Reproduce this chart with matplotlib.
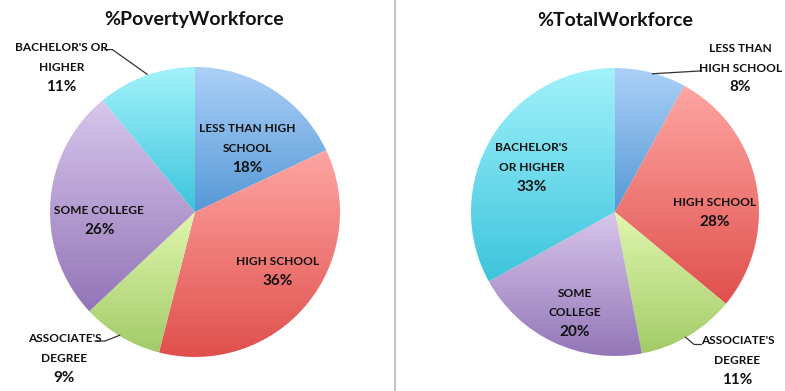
import numpy as np
import matplotlib
matplotlib.use("Agg")
import matplotlib.pyplot as plt
from matplotlib.colors import LinearSegmentedColormap

# ---- data ----
categories = ["Less than high school", "High school", "Associate's degree",
              "Some college", "Bachelor's or higher"]
poverty_values = [18, 36, 9, 26, 11]
total_values = [8, 28, 11, 20, 33]
titles = ["%PovertyWorkforce", "%TotalWorkforce"]

# label line breaks per chart (text content)
poverty_label_lines = [["Less than high", "school"], ["High school"], ["Associate's", "degree"],
                       ["Some college"], ["Bachelor's or", "higher"]]
total_label_lines = [["Less than", "high school"], ["High school"], ["Associate's", "degree"],
                     ["Some", "college"], ["Bachelor's", "or higher"]]

# ---- style ----
grad_colors = [("#acd0f7", "#5598d6"),
               ("#ffa6a3", "#df4f4c"),
               ("#e0f7ae", "#a3cb68"),
               ("#d8c6ec", "#9275b6"),
               ("#a2f2fb", "#3cc4dc")]
# label placement (radius fraction, outside flag, text offset in r units)
poverty_label_pos = [(0.36, 0.44), (0.57, -0.41), (-0.90, -1.01), (-0.66, -0.06), (-0.92, 1.00)]
total_label_pos = [(0.87, 1.00), (0.69, 0.00), (0.85, -1.03), (-0.28, -0.70), (-0.58, 0.31)]
poverty_leaders = {2: [(-0.52, -0.85), (-0.62, -0.89), (-0.69, -0.89)],
                   4: [(-0.33, 0.95), (-0.57, 1.12), (-0.62, 1.12)]}
total_leaders = {0: [(0.26, 0.96), (0.60, 0.98)],
                 2: [(0.49, -0.87), (0.55, -0.92), (0.60, -0.92)]}

FONT = "Lato"
W, H = 785, 391
fig = plt.figure(figsize=(W / 100, H / 100), dpi=100)


def draw_pie(ax, values, lines, label_pos, leaders):
    wedges, _ = ax.pie(values, startangle=90, counterclock=False, radius=1.0,
                       wedgeprops=dict(linewidth=0, edgecolor="none"))
    for w, (c1, c2) in zip(wedges, grad_colors):
        w.set_facecolor("none")
        path = w.get_path()
        verts = path.vertices
        x0, x1 = verts[:, 0].min(), verts[:, 0].max()
        y0, y1 = verts[:, 1].min(), verts[:, 1].max()
        cmap = LinearSegmentedColormap.from_list("g", [c2, c1])
        grad = np.linspace(0, 1, 256).reshape(-1, 1)
        im = ax.imshow(grad, cmap=cmap, extent=(x0, x1, y0, y1), origin="lower",
                       aspect="auto", zorder=1, interpolation="bilinear")
        im.set_clip_path(w)
    total = sum(values)
    for i, (ln, (lx, ly)) in enumerate(zip(lines, label_pos)):
        pct = f"{round(values[i] / total * 100)}%"
        n = len(ln)
        step = 0.135
        ytop = ly + step * n / 2
        for k, s in enumerate(ln):
            ax.text(lx, ytop - k * step, s.upper(), ha="center", va="center",
                    fontsize=8.6, fontweight="bold", family=FONT, color="#111111", zorder=5)
        ax.text(lx, ytop - n * step, pct, ha="center", va="center",
                fontsize=11, fontweight="bold", family=FONT, color="#111111", zorder=5)
    for i, pts in leaders.items():
        xs, ys = zip(*pts)
        ax.plot(xs, ys, color="#333333", lw=0.9, zorder=4)


# left pie: center (195,212) r=145 ; axes spans x 0..390
r1 = 145.0
ax1 = fig.add_axes([0, 0, 390 / W, 1])
draw_pie(ax1, poverty_values, poverty_label_lines, poverty_label_pos, poverty_leaders)
ax1.set_xlim(-195 / r1, 195 / r1)
ax1.set_ylim(-(H - 212) / r1, 212 / r1)
ax1.set_aspect("auto")
ax1.axis("off")

# right pie: center (615,212) r=144 ; axes spans x 395..785
r2 = 144.0
ax2 = fig.add_axes([395 / W, 0, 390 / W, 1])
draw_pie(ax2, total_values, total_label_lines, total_label_pos, total_leaders)
ax2.set_xlim(-220 / r2, 170 / r2)
ax2.set_ylim(-(H - 212) / r2, 212 / r2)
ax2.set_aspect("auto")
ax2.axis("off")

fig.text(194 / W, 1 - 20 / H, titles[0], ha="center", va="center", fontsize=14,
         fontweight="bold", family=FONT, color="#111111")
fig.text(615 / W, 1 - 21 / H, titles[1], ha="center", va="center", fontsize=14,
         fontweight="bold", family=FONT, color="#111111")

fig.add_artist(plt.Line2D([394.5 / W, 394.5 / W], [0, 1], color="#c8c8c8", lw=1.6,
                          transform=fig.transFigure))

fig.savefig("out.png", dpi=100, facecolor="white")
